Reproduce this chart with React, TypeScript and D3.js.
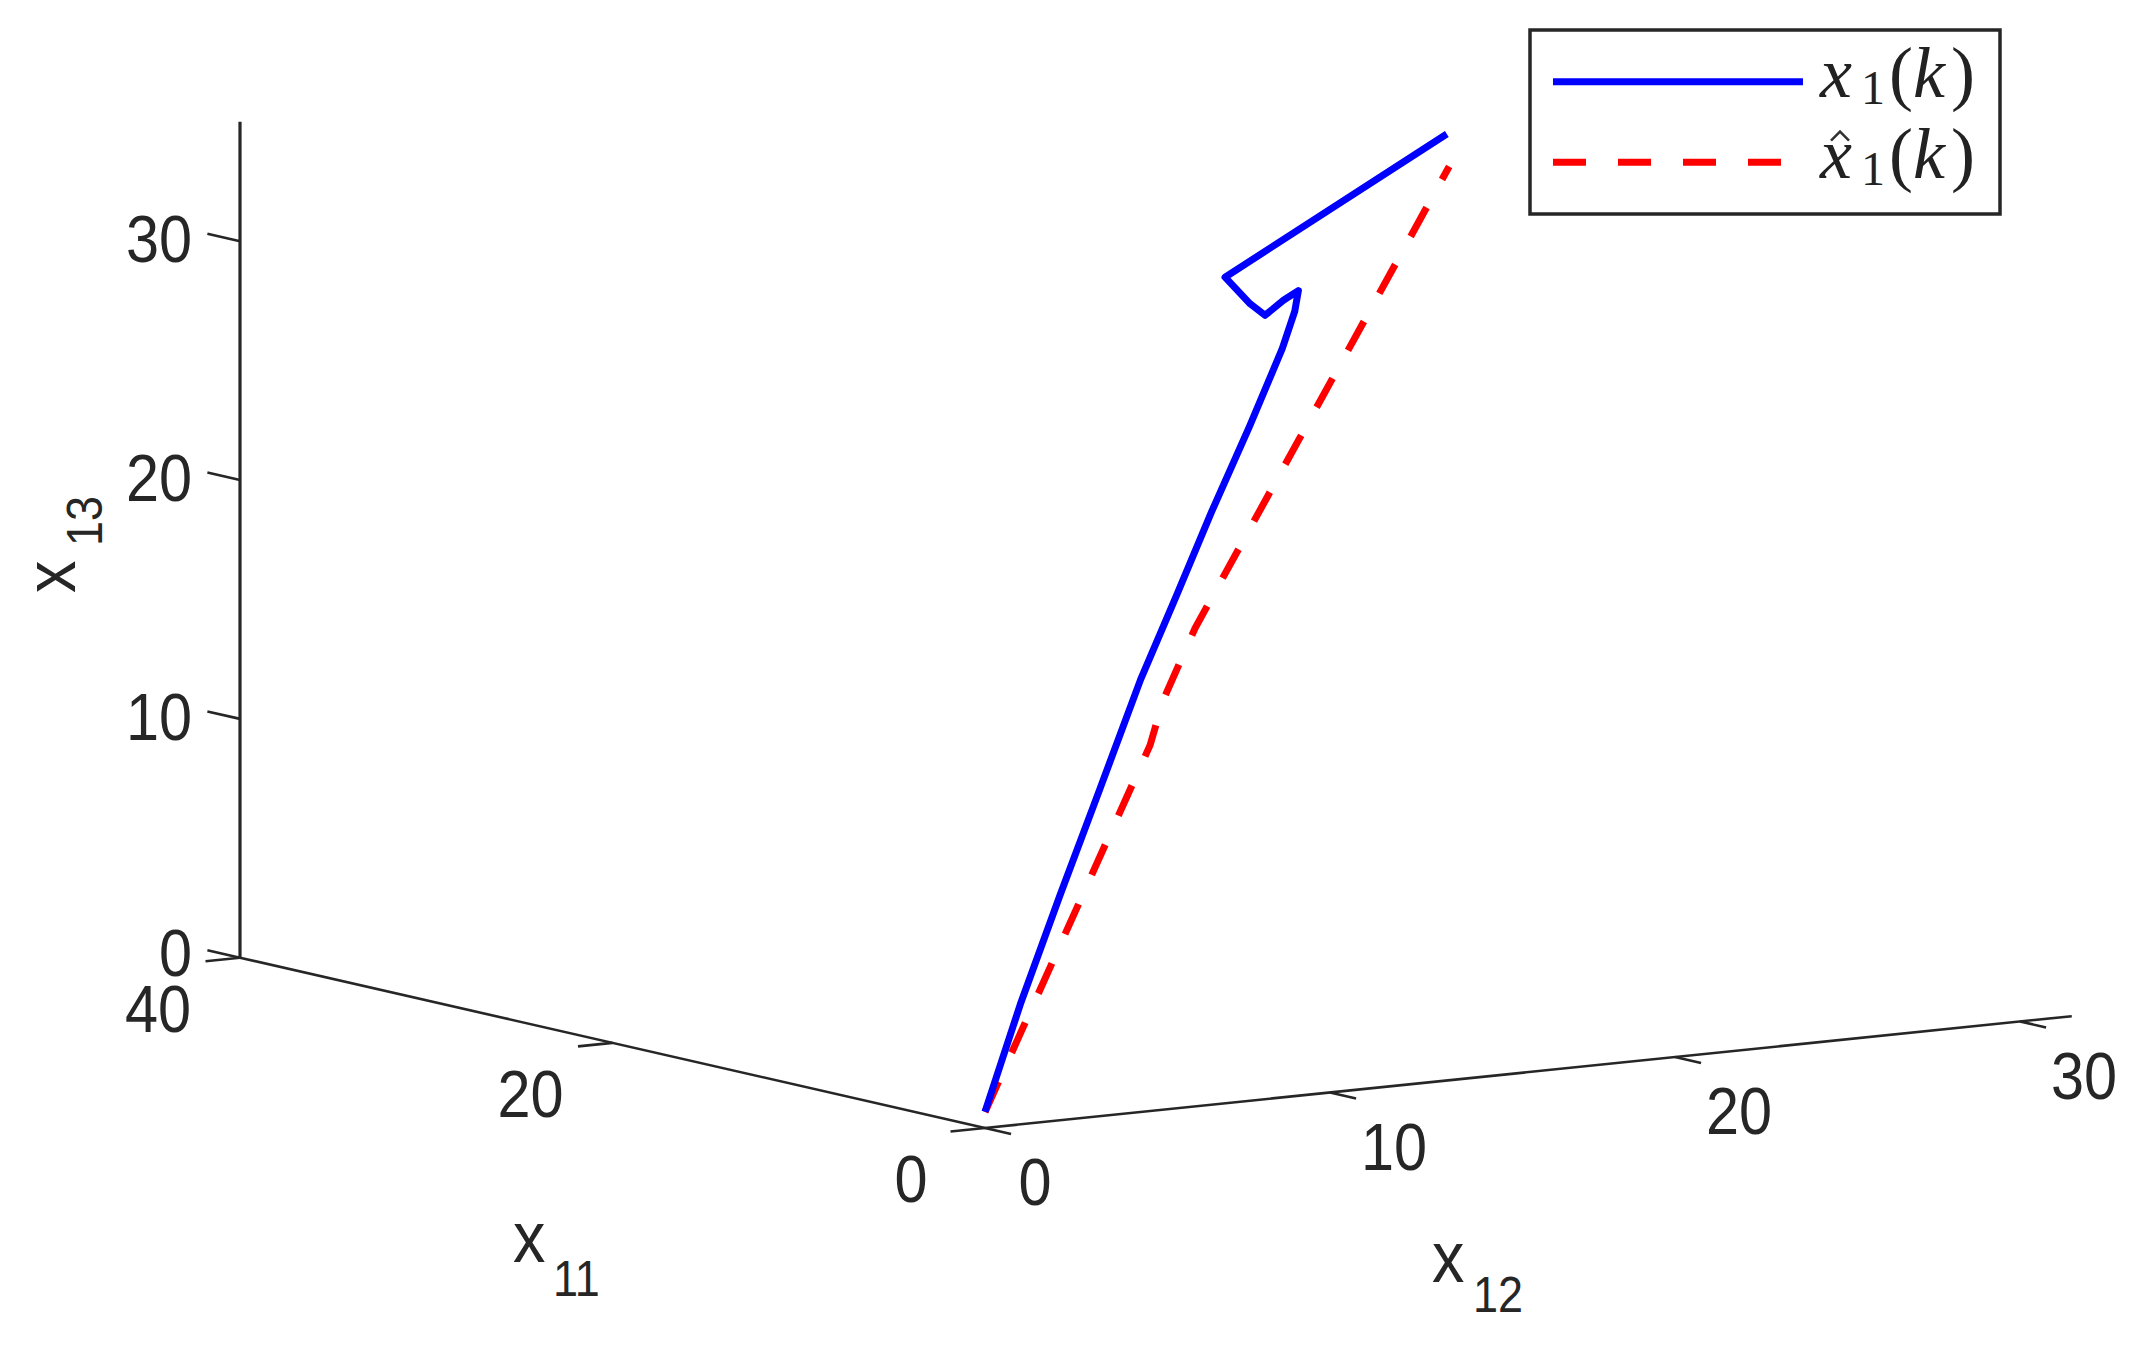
import React from "react";
import * as d3 from "d3";

const W = 2139;
const H = 1345;

// x1(k) trajectory
const blueX11 = [0, 2.23, 4.73, 7.21, 9.8, 12.04, 14.27, 16.67, 18.73, 19.51, 19.74, 18.8, 17.64, 16.7, 15.12, 29.09];
const blueX12 = [0, 2.23, 4.73, 7.21, 9.8, 12.04, 14.27, 16.67, 18.73, 19.51, 19.74, 18.8, 17.64, 16.7, 15.12, 29.09];
const blueX13 = [0.68, 4.46, 8.21, 11.79, 15.57, 18.32, 21.13, 23.94, 26.52, 27.81, 28.61, 28.51, 28.26, 29.05, 30.68, 32.11];

// estimate x^1(k)
const redX11 = [0, 10.4, 11.22, 13.23, 29.24];
const redX12 = [0, 10.4, 11.22, 13.23, 29.24];
const redX13 = [0.67, 12.63, 14.24, 16.6, 30.7];

const x11Ticks = [0, 20, 40];
const x12Ticks = [0, 10, 20, 30];
const x13Ticks = [0, 10, 20, 30];
const x11Lim = [0, 40];
const x12Lim = [0, 31.5];
const x13Lim = [0, 35];

const legendHat = [false, true];

// orthographic projection of the 3-D axes box
const x11X = d3.scaleLinear().domain([0, 40]).range([985, 240]);
const x11Y = d3.scaleLinear().domain([0, 40]).range([1128, 957.7]);
const x12X = d3.scaleLinear().domain([0, 30]).range([0, 1035]);
const x12Y = d3.scaleLinear().domain([0, 30]).range([0, -106.5]);
const x13Y = d3.scaleLinear().domain([0, 30]).range([0, -716.5]);

const proj = (a: number, b: number, c: number): [number, number] => [
  x11X(a) + x12X(b),
  x11Y(a) + x12Y(b) + x13Y(c),
];

const line3 = (a: number[], b: number[], c: number[]) =>
  d3.line()(a.map((v, i) => proj(v, b[i], c[i])));

const INK = "#262626";
const numFont = "'Liberation Sans', Arial, sans-serif";
const texFont = "'Liberation Serif', 'Times New Roman', serif";

function Num({ x, y, t, anchor }: { x: number; y: number; t: string; anchor: string }) {
  return (
    <text
      transform={`translate(${x},${y}) scale(0.9,1)`}
      textAnchor={anchor}
      dominantBaseline="central"
      fontFamily={numFont}
      fontSize={66}
      fill={INK}
    >
      {t}
    </text>
  );
}

function Seg({ p, q, w = 3 }: { p: [number, number]; q: [number, number]; w?: number }) {
  return <line x1={p[0]} y1={p[1]} x2={q[0]} y2={q[1]} stroke={INK} strokeWidth={w} />;
}

export default function App() {
  const origin = proj(0, 0, 0);
  const zBase = proj(x11Lim[1], 0, 0);
  const zTop = proj(x11Lim[1], 0, x13Lim[1]);
  const x12End = proj(0, x12Lim[1], 0);

  return (
    <svg
      width={W}
      height={H}
      style={{ position: "absolute", left: 0, top: 0, background: "#fff" }}
    >
      <rect width={W} height={H} fill="#fff" />

      {/* axes */}
      <Seg p={zBase} q={zTop} w={3.2} />
      <Seg p={zBase} q={origin} w={2.6} />
      <Seg p={origin} q={x12End} w={2.6} />

      {/* x13 ticks */}
      {x13Ticks.map((t) => {
        const p = proj(x11Lim[1], 0, t);
        const q = proj(x11Lim[1] + 1.75, 0, t);
        return (
          <g key={"z" + t}>
            <Seg p={p} q={q} w={2.6} />
            <Num x={192} y={p[1] - (t === 0 ? 5 : 2)} t={String(t)} anchor="end" />
          </g>
        );
      })}

      {/* x11 ticks */}
      {x11Ticks.map((t) => {
        const p = proj(t, 0, 0);
        const q = proj(t, -1, 0);
        const dx = t === 0 ? -74 : -82;
        return (
          <g key={"a" + t}>
            <Seg p={p} q={q} w={2.6} />
            <Num x={p[0] + dx} y={p[1] + 51} t={String(t)} anchor="middle" />
          </g>
        );
      })}

      {/* x12 ticks */}
      {x12Ticks.map((t) => {
        const p = proj(0, t, 0);
        const q = proj(-1.4, t, 0);
        const dx = t === 0 ? 50 : 64;
        return (
          <g key={"b" + t}>
            <Seg p={p} q={q} w={2.6} />
            <Num x={p[0] + dx} y={p[1] + 54} t={String(t)} anchor="middle" />
          </g>
        );
      })}

      {/* axis labels */}
      <g fontFamily={numFont} fill={INK}>
        <text transform="translate(513,1262) scale(0.9,1)" fontSize={72}>x</text>
        <text transform="translate(553,1296) scale(0.9,1)" fontSize={50}>11</text>
        <text transform="translate(1432,1282) scale(0.9,1)" fontSize={72}>x</text>
        <text transform="translate(1473,1312) scale(0.9,1)" fontSize={50}>12</text>
        <text transform="translate(75,593) rotate(-90) scale(0.9,1)" fontSize={72}>x</text>
        <text transform="translate(102,546) rotate(-90) scale(0.9,1)" fontSize={50}>13</text>
      </g>

      {/* data */}
      <path
        d={line3(redX11, redX12, redX13) || ""}
        fill="none"
        stroke="#ff0000"
        strokeWidth={7}
        strokeDasharray="33 32"
      />
      <path
        d={line3(blueX11, blueX12, blueX13) || ""}
        fill="none"
        stroke="#0000ff"
        strokeWidth={7}
        strokeLinejoin="round"
      />

      {/* legend */}
      <rect x={1530} y={30} width={470} height={184} fill="#fff" stroke={INK} strokeWidth={3.5} />
      <line x1={1553} y1={81.7} x2={1803} y2={81.7} stroke="#0000ff" strokeWidth={7} />
      <line x1={1553} y1={162.3} x2={1781} y2={162.3} stroke="#ff0000" strokeWidth={7} strokeDasharray="33 32" />
      {legendHat.map((hat, i) => {
        const by = 97 + i * 80.6;
        return (
          <g key={"l" + i} fontFamily={texFont} fill="#222" fontSize={72}>
            <text x={1820} y={by} fontStyle="italic">x</text>
            <text x={1861} y={by + 7} fontSize={48}>1</text>
            <text x={1889} y={by}>(</text>
            <text x={1913} y={by} fontStyle="italic">k</text>
            <text x={1951} y={by}>)</text>
            {hat && (
              <path
                d={`M1831,${by - 37} L1840,${by - 46} L1849,${by - 37}`}
                fill="none"
                stroke="#333"
                strokeWidth={2.5}
              />
            )}
          </g>
        );
      })}
    </svg>
  );
}
